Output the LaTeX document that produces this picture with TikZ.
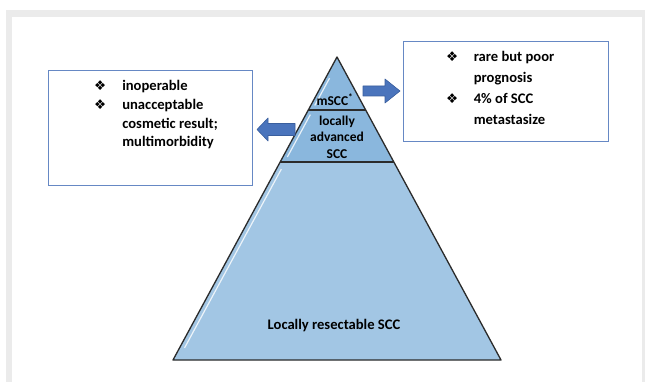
\documentclass[tikz,border=0pt]{standalone}
\usepackage{fontspec}
\setmainfont{Carlito}
\newfontfamily\symfont{DejaVu Sans}
\usetikzlibrary{calc}
\definecolor{framegray}{HTML}{EBEBEB}
\definecolor{topblue}{HTML}{8AB7DD}
\definecolor{baseblue}{HTML}{A2C6E4}
\definecolor{boxblue}{HTML}{6688C4}
\definecolor{arrowblue}{HTML}{4A74BC}
\definecolor{arrowedge}{HTML}{3A5F9E}
\definecolor{edgegray}{HTML}{2B2B2B}
\tikzset{
  infobox/.style={draw=boxblue, line width=1.3pt, fill=white, inner sep=0pt},
  infotext/.style={anchor=west, inner sep=0pt},
  pyrlabel/.style={font=\bfseries\fontsize{13.5}{16.5}\selectfont, align=center, inner sep=0pt},
  blockarrow/.style={fill=arrowblue, draw=arrowedge, line width=0.6pt, line join=round},
  level/.style={draw=edgegray, line width=1.3pt, line join=round},
  gloss/.style={draw=white, line width=1.2pt, opacity=0.8}
}
\newcommand{\dia}{{\symfont\fontsize{13.5}{13.5}\selectfont ❖}}
\begin{document}
\begin{tikzpicture}[x=1pt,y=-1pt]
\useasboundingbox (0,0) rectangle (645,382);
\fill[framegray] (6,10) rectangle (645,382);
\fill[white] (12,17) rectangle (642,382);

\coordinate (apex) at (337,57);
\coordinate (bl) at (173,360);
\coordinate (br) at (501,360);
\coordinate (m1l) at ($(apex)!0.175!(bl)$);
\coordinate (m1r) at ($(apex)!0.175!(br)$);
\coordinate (m2l) at ($(apex)!0.3465!(bl)$);
\coordinate (m2r) at ($(apex)!0.3465!(br)$);

\fill[baseblue] (m2l) -- (m2r) -- (br) -- (bl) -- cycle;
\fill[topblue] (apex) -- (m2r) -- (m2l) -- cycle;
\draw[gloss] ($(apex)!0.07!(bl)+(4,0)$) -- ($(apex)!0.16!(bl)+(4,0)$);
\draw[gloss] ($(apex)!0.19!(bl)+(4.5,0)$) -- ($(apex)!0.33!(bl)+(4.5,0)$);
\draw[gloss] ($(apex)!0.37!(bl)+(5,0)$) -- ($(apex)!0.96!(bl)+(5,0)$);
\draw[level] (apex) -- (br) -- (bl) -- cycle;
\draw[level, line width=2pt] (m1l) -- (m1r);
\draw[level, line width=2pt] (m2l) -- (m2r);

\node[pyrlabel] (mscc) at (335,100) {mSCC\textsuperscript{*}};
\node[pyrlabel] (lascc) at (337,137) {locally\\advanced\\SCC};
\node[pyrlabel, font=\bfseries\fontsize{14.6}{17}\selectfont] (lrscc) at (334,326) {Locally resectable SCC};

\node[infobox, minimum width=204pt, minimum height=115pt, anchor=north west] (leftbox) at (48,70) {};
\node[infotext, font=\bfseries\fontsize{14.6}{18.7}\selectfont] (lefttext) at (94,115) {\begin{tabular}{@{}c@{\hspace{16pt}}l@{}}
\dia & inoperable\\
\dia & unacceptable\\
 & cosmetic result;\\
 & multimorbidity
\end{tabular}};

\node[infobox, minimum width=205pt, minimum height=100pt, anchor=north west] (rightbox) at (403,41) {};
\node[infotext, font=\bfseries\fontsize{14.6}{21}\selectfont] (righttext) at (446,89) {\begin{tabular}{@{}c@{\hspace{15.5pt}}l@{}}
\dia & rare but poor\\
 & prognosis\\
\dia & 4\% of SCC\\
 & metastasize
\end{tabular}};

\filldraw[blockarrow] (363,86) -- (385,86) -- (385,79) -- (400,91) -- (385,103) -- (385,96) -- (363,96) -- cycle;
\filldraw[blockarrow] (295,123.5) -- (268,123.5) -- (268,118) -- (257,129.5) -- (268,141) -- (268,135.5) -- (295,135.5) -- cycle;
\end{tikzpicture}
\end{document}
